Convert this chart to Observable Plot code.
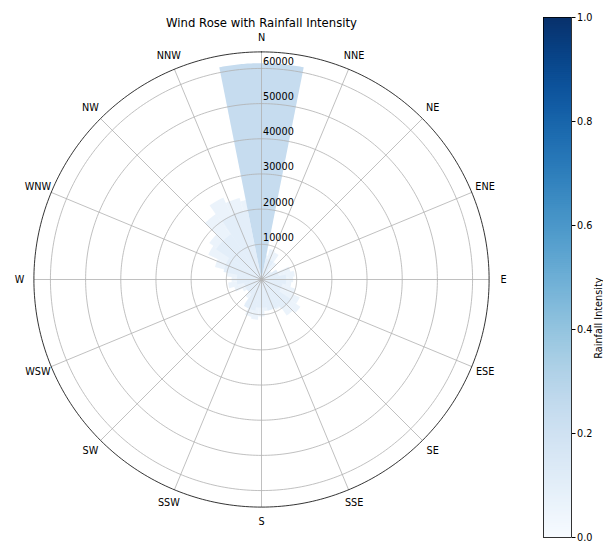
<!DOCTYPE html>
<html><head><meta charset="utf-8">
<script src="https://cdn.jsdelivr.net/npm/d3@7"></script>
<script src="https://cdn.jsdelivr.net/npm/@observablehq/plot@0.6"></script>
<style>
body{margin:0;background:#fff;}
#wrap{position:relative;width:603px;height:544px;overflow:hidden;background:#fff;}
#rose{position:absolute;left:0;top:0;}
#cbar{position:absolute;left:543px;top:7px;width:80px;}
#wrap svg{max-width:none !important;}
</style></head><body><div id="wrap"><div id="rose"></div><div id="cbar"></div></div>
<script>
const directions = ["N","NNE","NE","ENE","E","ESE","SE","SSE","S","SSW","SW","WSW","W","WNW","NW","NNW"];
const sectorCounts = [61500, 6000, 3000, 5000, 7000, 6000, 10000, 9000, 8000, 9000, 5000, 5000, 7000, 11000, 15500, 20000];
const sectorRain = [0.24, 0.1, 0.1, 0.1, 0.1, 0.1, 0.1, 0.1, 0.1, 0.1, 0.1, 0.1, 0.1, 0.1, 0.1, 0.1];
const fineAngles = [0,10,20,30,40,50,60,70,80,90,100,110,120,130,140,150,160,170,180,190,200,210,220,230,240,250,260,270,280,290,300,310,320,330,340,350];
const fineCounts = [8000,7000,9000,8500,6000,3500,5000,8500,9500,9000,8500,10000,12000,13500,12500,9500,8000,9000,10500,11500,11000,8500,6500,5000,6000,8000,9500,8500,10000,13700,16700,18100,22700,25700,24000,23000];
const fineRain = [0.1,0.1,0.1,0.1,0.1,0.1,0.1,0.1,0.1,0.1,0.1,0.1,0.1,0.1,0.1,0.1,0.1,0.1,0.1,0.1,0.1,0.1,0.1,0.1,0.1,0.1,0.1,0.1,0.1,0.1,0.1,0.1,0.1,0.1,0.1,0.1];
const radialTicks = [10000,20000,30000,40000,50000,60000];
const colorTicks = [0,0.2,0.4,0.6,0.8,1.0];
const title = "Wind Rose with Rainfall Intensity";
const cbarLabel = "Rainfall Intensity";
const rMax = 64700;

const rad = a => a * Math.PI / 180;
function sector(id, center, width, r, rain) {
  const pts = [{id, rain, x: 0, y: 0}];
  const a0 = center - width / 2, a1 = center + width / 2;
  const n = Math.max(4, Math.ceil(width * 2));
  for (let i = 0; i <= n; i++) {
    const a = rad(a0 + (a1 - a0) * i / n);
    pts.push({id, rain, x: r * Math.sin(a), y: r * Math.cos(a)});
  }
  pts.push({id, rain, x: 0, y: 0});
  return pts;
}
const finePts = fineAngles.flatMap((a, i) => sector("f" + i, a, 10, fineCounts[i], fineRain[i]));
const sectorPts = directions.flatMap((d, i) => sector("s" + i, i * 22.5, 22.5, sectorCounts[i], sectorRain[i]));
function ring(r) {
  return d3.range(0, 361, 1).map(a => ({r, x: r * Math.sin(rad(a)), y: r * Math.cos(rad(a))}));
}
const ringPts = radialTicks.flatMap(ring);
const outerPts = ring(rMax);
const spokes = directions.map((d, i) => ({d, a: i * 22.5}));
const labelR = rMax * 242 / 227.6;

const W = 603, H = 544, cx = 261, cy = 279, R = 227.6;
const rose = Plot.plot({
  width: W, height: H,
  marginLeft: cx - R, marginRight: W - (cx + R),
  marginTop: cy - R, marginBottom: H - (cy + R),
  x: {domain: [-rMax, rMax], axis: null},
  y: {domain: [-rMax, rMax], axis: null},
  color: {type: "linear", scheme: "blues", domain: [0, 1]},
  style: {fontFamily: "DejaVu Sans, sans-serif", fontSize: "9.7px", background: "white", overflow: "visible"},
  marks: [
    Plot.line(finePts, {x: "x", y: "y", z: "id", fill: "rain", fillOpacity: 0.7, stroke: "none"}),
    Plot.line(sectorPts, {x: "x", y: "y", z: "id", fill: "rain", stroke: "none"}),
    Plot.line(ringPts, {x: "x", y: "y", z: "r", stroke: "#b0b0b0", strokeWidth: 0.8}),
    Plot.link(spokes, {x1: 0, y1: 0, x2: d => rMax * Math.sin(rad(d.a)), y2: d => rMax * Math.cos(rad(d.a)), stroke: "#b0b0b0", strokeWidth: 0.8}),
    Plot.line(outerPts, {x: "x", y: "y", stroke: "#000", strokeWidth: 0.8}),
    Plot.text(spokes, {x: d => labelR * Math.sin(rad(d.a)), y: d => labelR * Math.cos(rad(d.a)), text: "d", fill: "#000", fontSize: 9.7}),
    Plot.text(radialTicks, {x: 0, y: d => d, text: d => String(d), textAnchor: "start", dx: 1.5, dy: -6.6, fill: "#000", fontSize: 9.7}),
    Plot.text([title], {frameAnchor: "top", dy: -33.4, text: d => d, fontSize: 11.67, fill: "#000"})
  ]
});
document.getElementById("rose").appendChild(rose);

const steps = d3.range(0, 256).map(i => i / 256);
const cbar = Plot.plot({
  width: 75, height: 540,
  marginTop: 10, marginBottom: 10, marginLeft: 0, marginRight: 47,
  x: {domain: [0, 1], axis: null},
  y: {domain: [0, 1], axis: "right", ticks: colorTicks, tickFormat: ".1f", tickSize: 3.5, tickPadding: 2, label: null},
  color: {type: "linear", scheme: "blues", domain: [0, 1]},
  style: {fontFamily: "DejaVu Sans, sans-serif", fontSize: "9.7px", background: "transparent", overflow: "visible", color: "#000", maxWidth: "none"},
  marks: [
    Plot.rect(steps, {x1: 0, x2: 1, y1: d => d, y2: d => Math.min(1, d + 1 / 256 + 0.002), fill: d => d + 0.5 / 256}),
    Plot.frame({stroke: "#000", strokeWidth: 0.8}),
    Plot.text([cbarLabel], {frameAnchor: "right", dx: 27, rotate: -90, text: d => d, fill: "#000", fontSize: 9.7})
  ]
});
document.getElementById("cbar").appendChild(cbar);
</script>
</body></html>
